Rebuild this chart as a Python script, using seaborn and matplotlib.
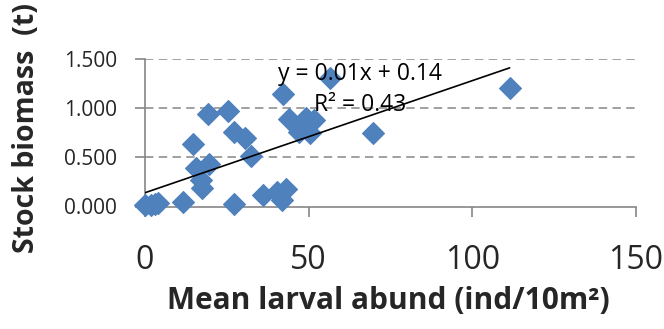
import numpy as np
import pandas as pd
import matplotlib
matplotlib.use("Agg")
import matplotlib.pyplot as plt
import seaborn as sns

# Mean larval abundance (ind/10m2) and stock biomass (t) per survey
larval_abund = [0.0, 1.7, 3.0, 4.0, 11.7, 14.6, 15.6, 17.1, 17.3, 19.6,
                19.2, 25.3, 27.2, 30.6, 27.3, 32.4, 36.2, 40.3, 41.8, 43.1,
                42.3, 44.1, 46.9, 49.2, 50.5, 51.5, 56.4, 69.8, 111.4]
stock_biomass = [0.02, 0.02, 0.03, 0.04, 0.05, 0.64, 0.39, 0.27, 0.19, 0.43,
                 0.94, 0.97, 0.76, 0.70, 0.03, 0.51, 0.12, 0.15, 0.07, 0.18,
                 1.14, 0.89, 0.76, 0.90, 0.75, 0.88, 1.31, 0.75, 1.21]

# Linear trend line reported with the series
trend_slope = 0.0114
trend_intercept = 0.14
trend_r2 = 0.43

x_ticks = [0, 50, 100, 150]
y_ticks = [0.0, 0.5, 1.0, 1.5]

df = pd.DataFrame({"abund": larval_abund, "biomass": stock_biomass})

sns.set_style("white")
plt.rcParams["font.family"] = ["Open Sans", "DejaVu Sans"]

fig = plt.figure(figsize=(6.64, 3.29), dpi=100)
ax = fig.add_axes([145 / 664, 1 - 206.5 / 329, 491 / 664, 147.5 / 329])

grey = "#868686"
blue = "#4F81BD"

for yv in y_ticks[1:]:
    ax.axhline(yv, color=grey, lw=1.1, ls=(0, (5.5, 3.5)), zorder=0)

sns.scatterplot(data=df, x="abund", y="biomass", marker="D", s=125,
                color=blue, edgecolor=blue, linewidth=0.8, ax=ax,
                clip_on=False, zorder=3)

trend_x = np.array([0.0, df["abund"].max()])
sns.lineplot(x=trend_x, y=trend_slope * trend_x + trend_intercept,
             color="black", lw=1.2, ax=ax, zorder=4)

ax.text(65.8, 1.345, f"y = {trend_slope:.2f}x + {trend_intercept:.2f}",
        ha="center", va="center", fontsize=16.5, color="black", zorder=5)
ax.text(65.8, 1.03, f"R\u00b2 = {trend_r2:.2f}", ha="center", va="center",
        fontsize=16.5, color="black", zorder=5)

ax.set_xlim(0, 150)
ax.set_ylim(0, 1.5)
ax.set_xticks(x_ticks)
ax.set_xticklabels([str(t) for t in x_ticks])
ax.set_yticks(y_ticks)
ax.set_yticklabels([f"{t:.3f}" for t in y_ticks])

for side in ["top", "right"]:
    ax.spines[side].set_visible(False)
for side in ["left", "bottom"]:
    ax.spines[side].set_color(grey)
    ax.spines[side].set_linewidth(1.2)

ax.tick_params(axis="x", direction="out", length=7, width=1.2, color=grey,
               labelsize=23, pad=20, bottom=True)
ax.tick_params(axis="y", direction="out", length=7, width=1.2, color=grey,
               labelsize=15, pad=13, left=True)

ax.set_xlabel("Mean larval abund (ind/10m\u00b2)", fontsize=21.5,
              fontweight="bold", va="center")
ax.xaxis.set_label_coords((388 - 145) / 491, (206.5 - 301) / 147.5)
ax.set_ylabel("Stock biomass  (t)", fontsize=20.5, fontweight="bold",
              va="center")
ax.yaxis.set_label_coords((27 - 145) / 491, (206.5 - 128) / 147.5)

fig.savefig("out.png", dpi=100)
